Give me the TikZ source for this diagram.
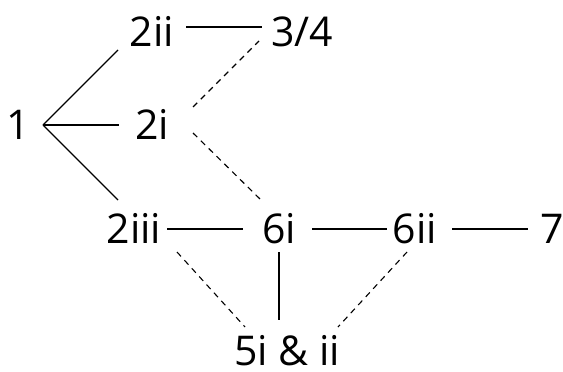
\documentclass[tikz,border=0pt]{standalone}
\usepackage{fontspec}
\setmainfont{Open Sans}
\begin{document}
\begin{tikzpicture}[x=1pt,y=-1pt,
  lbl/.style={anchor=base,inner sep=0pt,font=\fontsize{41}{41}\selectfont,text=black},
  link/.style={line width=1.1pt,black},
  dlink/.style={line width=1.1pt,black,dash pattern=on 6pt off 5pt}]
\useasboundingbox (0,0) rectangle (563,372);
\node[lbl] (n1) at (18,139) {1};
\node[lbl] (n2ii) at (152,46) {2ii};
\node[lbl] (n34) at (302,46) {3/4};
\node[lbl] (n2i) at (152,139) {2i};
\node[lbl] (n2iii) at (134,243) {2iii};
\node[lbl] (n6i) at (279,243) {6i};
\node[lbl] (n6ii) at (415,243) {6ii};
\node[lbl] (n7) at (552,243) {7};
\node[lbl] (n5) at (287,365) {5i \& ii};
\coordinate (hub) at ([shift={(25,-14)}]n1.base);
\draw[link] (hub) -- ([shift={(-34,4)}]n2ii.base);
\draw[link] (hub) -- ([shift={(-33,-14)}]n2i.base);
\draw[link] (hub) -- ([shift={(-16,-43)}]n2iii.base);
\draw[link] ([shift={(34,-19)}]n2ii.base) -- ([shift={(-40,-19)}]n34.base);
\draw[dlink] ([shift={(41,-32)}]n2i.base) -- ([shift={(-43,-5)}]n34.base);
\draw[dlink] ([shift={(41,-6)}]n2i.base) -- ([shift={(-19,-44)}]n6i.base);
\draw[link] ([shift={(33,-14)}]n2iii.base) -- ([shift={(-36,-14)}]n6i.base);
\draw[link] ([shift={(33,-14)}]n6i.base) -- ([shift={(-28,-14)}]n6ii.base);
\draw[link] ([shift={(37,-14)}]n6ii.base) -- ([shift={(-24,-14)}]n7.base);
\draw[dlink] ([shift={(43,9)}]n2iii.base) -- ([shift={(-42,-38)}]n5.base);
\draw[link] ([shift={(0,9)}]n6i.base) -- ([shift={(-8,-45)}]n5.base);
\draw[dlink] ([shift={(-8,9)}]n6ii.base) -- ([shift={(51,-38)}]n5.base);
\end{tikzpicture}
\end{document}
